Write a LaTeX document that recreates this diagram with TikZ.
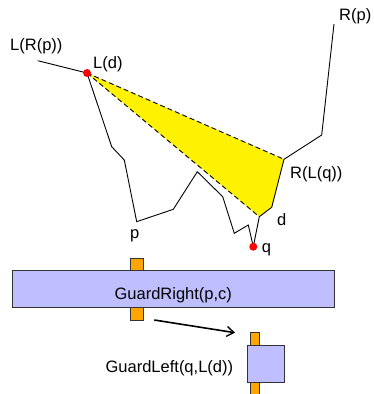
\documentclass[tikz,border=0pt]{standalone}
\usepackage{fontspec}
\setmainfont{Liberation Sans}
\usetikzlibrary{arrows.meta}
\definecolor{guardblue}{HTML}{BFBFFF}
\definecolor{guardorange}{HTML}{FFA500}
\definecolor{edgegray}{HTML}{333333}
\tikzset{
  lbl/.style={inner sep=0pt, font=\fontsize{16.5}{19}\selectfont},
  chain/.style={black, line width=0.9pt, line join=miter},
  hull/.style={black, line width=0.9pt, dash pattern=on 5pt off 3pt},
  vertex/.style={fill=red, draw=none},
  guardbox/.style={fill=guardblue, draw=edgegray, line width=0.9pt},
  tab/.style={fill=guardorange, draw=edgegray, line width=0.9pt},
  move/.style={black, line width=1.6pt, -{Straight Barb[length=7pt,width=10pt,line width=1.4pt]}}
}
\begin{document}
\begin{tikzpicture}[x=1pt,y=-1pt]
\useasboundingbox (0,0) rectangle (373,394);

% polygonal chain vertices
\coordinate (lrp) at (37.7,60.7);
\coordinate (ld)  at (87,73);
\coordinate (a1)  at (111.7,146.7);
\coordinate (a2)  at (124.3,160);
\coordinate (p)   at (136.7,221.7);
\coordinate (a3)  at (173.3,209.3);
\coordinate (a4)  at (197.3,171.7);
\coordinate (a5)  at (222.7,196.7);
\coordinate (a6)  at (234.3,233.3);
\coordinate (a7)  at (248.3,225);
\coordinate (q)   at (253.3,246.7);
\coordinate (d)   at (259.3,216.7);
\coordinate (a8)  at (271.7,207.3);
\coordinate (rlq) at (284,159.3);
\coordinate (a9)  at (321.7,135);
\coordinate (rp)  at (334,24);

% shaded pocket between L(d) and R(L(q))
\fill[yellow] (ld) -- (rlq) -- (a8) -- (d) -- cycle;
\draw[hull] (ld) -- (rlq);
\draw[hull] (ld) -- (d);

% the chain itself
\draw[chain] (lrp) -- (ld) -- (a1) -- (a2) -- (p) -- (a3) -- (a4) -- (a5)
  -- (a6) -- (a7) -- (q) -- (d) -- (a8) -- (rlq) -- (a9) -- (rp);

\fill[vertex] (ld) circle (4pt);
\fill[vertex] (q) circle (4pt);

% vertex labels
\node[lbl, anchor=base west] (tlrp) at (10,50) {L(R(p))};
\node[lbl, anchor=base west] (tld) at (93,68.3) {L(d)};
\node[lbl, anchor=base west] (trp) at (339,20.7) {R(p)};
\node[lbl, anchor=base west] (trlq) at (290,178.3) {R(L(q))};
\node[lbl, anchor=base west] (td) at (277,225) {d};
\node[lbl, anchor=base west] (tq) at (261.7,252.3) {q};
\node[lbl, anchor=base west] (tp) at (130,238.6) {p};

% GuardRight(p,c)
\draw[tab] (130.7,258.7) rectangle (143.3,270.7);
\draw[tab] (130.7,307.7) rectangle (143.3,320);
\draw[guardbox] (12.7,270.7) rectangle (334,307.7);
\node[lbl, anchor=base] (gr) at (173.3,299.3) {GuardRight(p,c)};

% GuardLeft(q,L(d))
\draw[tab] (250,332.7) rectangle (259.3,345);
\draw[tab] (250,382) rectangle (259.3,398);
\draw[guardbox] (247.3,345) rectangle (284.3,382);
\node[lbl, anchor=base east] (gl) at (233.3,372.7) {GuardLeft(q,L(d))};

\coordinate (mvs) at (154.3,320);
\coordinate (mve) at (235,332.7);
\draw[move] (mvs) -- (mve);
\end{tikzpicture}
\end{document}
